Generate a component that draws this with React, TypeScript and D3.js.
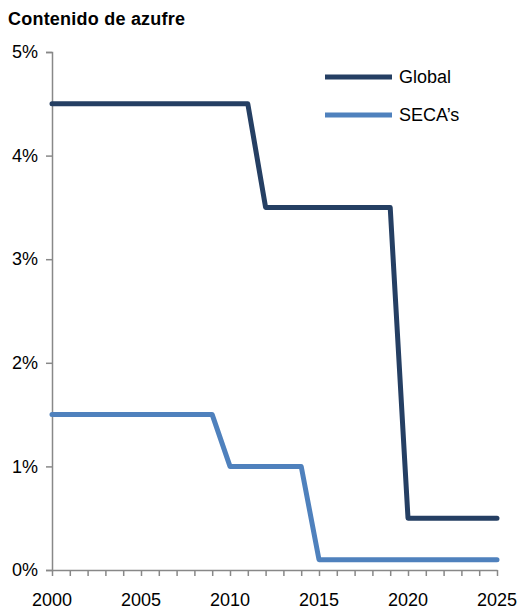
import { useEffect, useRef } from 'react';
import * as d3 from 'd3';

const years = [2000, 2011, 2012, 2019, 2020, 2025];
const globalValues = [4.5, 4.5, 3.5, 3.5, 0.5, 0.5];
const secaYears = [2000, 2009, 2010, 2014, 2015, 2025];
const secaValues = [1.5, 1.5, 1.0, 1.0, 0.1, 0.1];
const yTicks = [0, 1, 2, 3, 4, 5];
const xLabels = [2000, 2005, 2010, 2015, 2020, 2025];
const seriesNames = ['Global', 'SECA\u2019s'];
const colors = ['#253f63', '#4f81bd'];

const App: React.FC = () => {
    const ref = useRef<SVGSVGElement | null>(null);

    useEffect(() => {
        const width = 518;
        const height = 610;
        const margin = { top: 52, right: 21, bottom: 40, left: 52 };
        const font = '"Liberation Sans", Arial, sans-serif';

        const svg = d3.select(ref.current);
        svg.selectAll('*').remove();

        const x = d3.scaleLinear().domain([2000, 2025]).range([margin.left, width - margin.right]);
        const y = d3.scaleLinear().domain([0, 5]).range([height - margin.bottom, margin.top]);

        svg.append('text')
            .attr('x', 8)
            .attr('y', 25)
            .attr('font-family', font)
            .attr('font-weight', 'bold')
            .attr('font-size', 18)
            .attr('textLength', 177)
            .text('Contenido de azufre');

        // y axis
        const yAxis = svg.append('g')
            .attr('transform', `translate(${margin.left},0)`)
            .call(d3.axisLeft(y).tickValues(yTicks).tickSize(6).tickPadding(8).tickFormat(d => `${d}%`));
        yAxis.select('.domain').attr('stroke', '#888').attr('stroke-width', 1.5);
        yAxis.selectAll('.tick line').attr('stroke', '#888').attr('stroke-width', 1.5);
        yAxis.selectAll('.tick text')
            .attr('font-family', font).attr('font-size', 18).attr('fill', '#000');

        // x axis with yearly minor ticks
        const xAxis = svg.append('g')
            .attr('transform', `translate(0,${y(0)})`)
            .call(d3.axisBottom(x).ticks(25).tickSize(6).tickSizeOuter(0).tickFormat(() => ''));
        xAxis.select('.domain').attr('stroke', '#888').attr('stroke-width', 1.5);
        xAxis.selectAll('.tick line').attr('stroke', '#888').attr('stroke-width', 1.5);

        svg.append('g')
            .selectAll('text')
            .data(xLabels)
            .join('text')
            .attr('x', d => x(d))
            .attr('y', 606)
            .attr('text-anchor', 'middle')
            .attr('font-family', font)
            .attr('font-size', 18)
            .text(d => d);

        const line = d3.line<[number, number]>()
            .x(d => x(d[0]))
            .y(d => y(d[1]));

        const series: [number, number][][] = [
            years.map((yr, i) => [yr, globalValues[i]]),
            secaYears.map((yr, i) => [yr, secaValues[i]]),
        ];

        series.forEach((s, i) => {
            svg.append('path')
                .datum(s)
                .attr('d', line)
                .attr('fill', 'none')
                .attr('stroke', colors[i])
                .attr('stroke-width', 5)
                .attr('stroke-linejoin', 'round')
                .attr('stroke-linecap', 'round');
        });

        // legend
        const legend = svg.append('g');
        seriesNames.forEach((name, i) => {
            const ly = 77 + i * 38;
            legend.append('line')
                .attr('x1', 325).attr('x2', 392)
                .attr('y1', ly).attr('y2', ly)
                .attr('stroke', colors[i])
                .attr('stroke-width', 5);
            legend.append('text')
                .attr('x', 399)
                .attr('y', ly + 6)
                .attr('font-family', font)
                .attr('font-size', 18)
                .text(name);
        });
    }, []);

    return <svg ref={ref} width={518} height={610} style={{ display: 'block', position: 'absolute', left: 0, top: 0 }}></svg>;
};

export default App;
